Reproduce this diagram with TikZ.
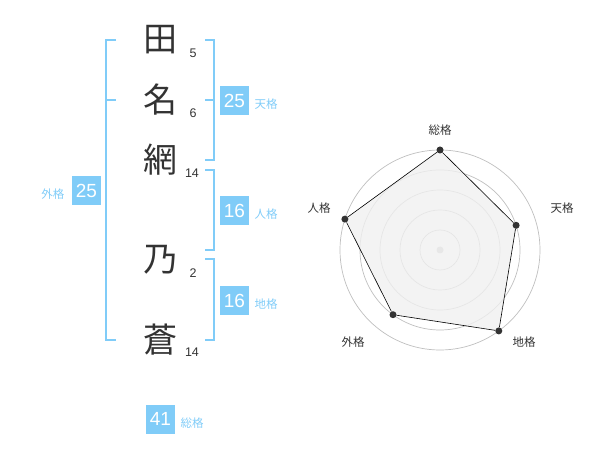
\documentclass[tikz,border=0pt]{standalone}
\usepackage{fontspec}
\setmainfont{Liberation Sans}
\newfontfamily\jpfont{Noto Sans CJK JP}
\usepackage{tikz}
\usetikzlibrary{positioning}
\definecolor{skyblue}{HTML}{80CCF8}
\definecolor{inkgray}{HTML}{333333}

\begin{document}
\begin{tikzpicture}[x=1pt,y=-1pt,
        kanji/.style={font=\jpfont\fontsize{34}{34}\selectfont,text=inkgray,inner sep=0pt},
        strokes/.style={font=\fontsize{12.5}{12.5}\selectfont,text=inkgray,inner sep=0pt},
        score/.style={fill=skyblue,text=white,font=\fontsize{19}{19}\selectfont,minimum size=29pt,inner sep=0pt},
        kind/.style={font=\jpfont\fontsize{11.5}{11.5}\selectfont,text=skyblue,inner sep=0pt},
        bracket/.style={draw=skyblue,line width=1.3pt},
        ring/.style={draw=black!25,line width=0.7pt},
        dot/.style={circle,fill=inkgray,inner sep=0pt,minimum size=7pt},
        axis/.style={font=\jpfont\fontsize{11.5}{11.5}\selectfont,text=inkgray,inner sep=0pt}]

        \useasboundingbox (0,0) rectangle (600,470);

        % name
        \node[kanji] (k1) at (160,40)  {田};
        \node[kanji] (k2) at (160,100) {名};
        \node[kanji] (k3) at (160,160) {網};
        \node[kanji] (k4) at (160,260) {乃};
        \node[kanji] (k5) at (160,340) {蒼};

        \node[strokes] (c1) at (193,53)  {5};
        \node[strokes] (c2) at (193,113) {6};
        \node[strokes] (c3) at (192,173) {14};
        \node[strokes] (c4) at (193,273) {2};
        \node[strokes] (c5) at (192,352) {14};

        % brackets
        \draw[bracket] (116,40) -- (106,40) -- (106,340) -- (116,340);
        \draw[bracket] (106,100) -- (116,100);
        \draw[bracket] (205,40) -- (214,40) -- (214,160) -- (205,160);
        \draw[bracket] (205,100) -- (214,100);
        \draw[bracket] (205,170) -- (214,170) -- (214,250) -- (205,250);
        \draw[bracket] (205,259) -- (214,259) -- (214,340) -- (205,340);

        % scores
        \node[score] (ten)   at (234.5,100.5) {25};
        \node[score] (jin)   at (234.5,210.5) {16};
        \node[score] (chi)   at (234.5,300.5) {16};
        \node[score] (gai)   at (86.5,190.5)  {25};
        \node[score] (sou)   at (160.5,419)   {41};

        \node[kind] at (266,104) {天格};
        \node[kind] at (266,214) {人格};
        \node[kind] at (266,304) {地格};
        \node[kind] at (53,194)  {外格};
        \node[kind] at (192,423) {総格};

        % chart
        \draw[ring] (440,250) circle (20);
        \draw[ring] (440,250) circle (40);
        \draw[ring] (440,250) circle (60);
        \draw[ring] (440,250) circle (80);
        \draw[ring] (440,250) circle (100);
        \node[circle,fill=black!22,inner sep=0pt,minimum size=7pt] (mid) at (440,250) {};

        \fill[black!6,opacity=0.8] (440,150) -- (516.1,225.3) -- (498.8,330.9) -- (393,314.7) -- (344.9,219.1) -- cycle;

        \node[dot] (p1) at (440,150)     {};
        \node[dot] (p2) at (516.1,225.3) {};
        \node[dot] (p3) at (498.8,330.9) {};
        \node[dot] (p4) at (393,314.7)   {};
        \node[dot] (p5) at (344.9,219.1) {};

        \path[draw=black,line width=0.6pt]
                  (p1) edge [] node []{} (p2)
                  (p2) edge [] node []{} (p3)
                  (p3) edge [] node []{} (p4)
                  (p4) edge [] node []{} (p5)
                  (p5) edge [] node []{} (p1);

        \node[axis] (a1) at (440,130) {総格};
        \node[axis] (a2) at (562,208) {天格};
        \node[axis] (a3) at (524,342) {地格};
        \node[axis] (a4) at (353,342) {外格};
        \node[axis] (a5) at (319,208) {人格};
\end{tikzpicture}
\end{document}
